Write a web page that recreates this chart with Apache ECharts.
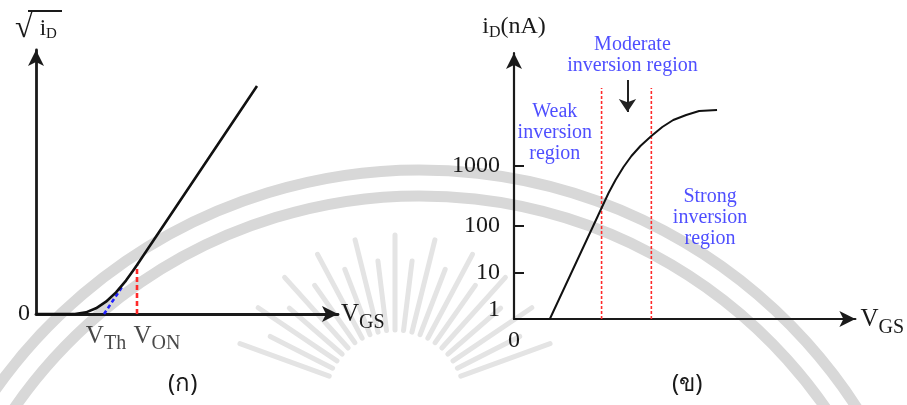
<!DOCTYPE html>
<html>
<head>
<meta charset="utf-8">
<script src="https://cdn.jsdelivr.net/npm/echarts@6/dist/echarts.min.js"></script>
<style>
  html, body { margin: 0; padding: 0; background: #ffffff; }
  #chart { width: 907px; height: 405px; }
</style>
</head>
<body>
<div id="chart"></div>
<script>
// ---- (ก) square root of drain current versus gate voltage ----
const sqrtCurve = [
  [0, 0], [0.39, 0], [0.5, 0.016], [0.6, 0.057], [0.7, 0.123],
  [0.8, 0.216], [0.9, 0.334], [0.97, 0.432], [1.01, 0.49], [2.21, 2.28]
];
const vTh = 0.68;
const vOn = 1.01;
const vOnLevel = 0.49;
const tangentEnd = [0.86, 0.27];
const subNames = ['Th', 'ON'];

// ---- (ข) drain current (schematic log scale) versus gate voltage ----
const idCurve = [
  [0, 0], [0.36, 0], [0.95, 1.26], [1.02, 1.39], [1.10, 1.52], [1.18, 1.63],
  [1.27, 1.73], [1.38, 1.83], [1.49, 1.92], [1.60, 1.99], [1.73, 2.04],
  [1.86, 2.08], [2.04, 2.09]
];
const regionBounds = [0.88, 1.38];
const regionTop = 2.31;
const idTickLabels = ['1', '10', '100', '1000'];
const idTickLevels = [0.09, 0.46, 0.93, 1.53];
const regionNames = ['Weak\ninversion\nregion', 'Moderate\ninversion region', 'Strong\ninversion\nregion'];
const regionAnchors = [[0.41, 1.86], [1.19, 2.64], [1.97, 1.01]];
const moderateArrow = [[1.14, 2.39], [1.14, 2.07]];

const serif = 'Liberation Serif, Times New Roman, serif';
const ink = '#1a1a1a';
const blue = '#2222ff';
const red = '#ff2a2a';

function subRich(size, subSize, drop) {
  return {
    m: { fontSize: size, fontFamily: serif, color: ink },
    r: { fontSize: 32, fontFamily: serif, color: ink, padding: [0, 7, 0, 0] },
    s: { fontSize: subSize, fontFamily: serif, color: ink, padding: [drop, 0, 0, 0] }
  };
}

const arrowLine = (w) => ({
  show: true,
  symbol: ['none', 'arrow'],
  symbolSize: [12, 16],
  lineStyle: { color: ink, width: w }
});

// faint emblem in the background: two concentric arcs and a fan of rays
const emblem = [];
const ec = { x: 420, y: 690 };
[520, 494].forEach(r => emblem.push({
  type: 'arc', silent: true, z: -10,
  shape: { cx: ec.x, cy: ec.y, r: r, startAngle: -152 * Math.PI / 180, endAngle: -22 * Math.PI / 180, clockwise: true },
  style: { stroke: '#d8d8d8', lineWidth: 11, fill: null }
}));
for (let a = 200; a <= 340; a += 7) {
  const t = a * Math.PI / 180;
  const r0 = 70, r1 = (a % 14 === 4) ? 165 : 140;
  emblem.push({
    type: 'line', silent: true, z: -10,
    shape: { x1: 395 + r0 * Math.cos(t), y1: 400 + r0 * Math.sin(t), x2: 395 + r1 * Math.cos(t), y2: 400 + r1 * Math.sin(t) },
    style: { stroke: '#e4e4e4', lineWidth: 5, lineCap: 'round' }
  });
}

const option = {
  animation: false,
  backgroundColor: '#ffffff',
  grid: [
    { left: 36, top: 50, width: 302, height: 264 },
    { left: 514, top: 53, width: 343, height: 266 }
  ],
  xAxis: [
    {
      gridIndex: 0, type: 'value', min: 0, max: 3.02,
      axisLine: arrowLine(2.8), axisTick: { show: false }, splitLine: { show: false },
      axisLabel: { show: false },
      name: '{m|V}{s|GS}', nameLocation: 'end', nameGap: 3,
      nameTextStyle: { rich: subRich(25, 20, 18) }
    },
    {
      gridIndex: 1, type: 'value', min: 0, max: 3.43,
      axisLine: arrowLine(2.2), axisTick: { show: false }, splitLine: { show: false },
      axisLabel: { customValues: [0], formatter: () => '0', fontSize: 24, fontFamily: serif, color: ink, margin: 10 },
      name: '{m|V}{s|GS}', nameLocation: 'end', nameGap: 5,
      nameTextStyle: { rich: subRich(25, 20, 18) }
    }
  ],
  yAxis: [
    {
      gridIndex: 0, type: 'value', min: 0, max: 2.64,
      axisLine: arrowLine(2.8), axisTick: { show: false }, splitLine: { show: false },
      axisLabel: { customValues: [0], formatter: () => '0', fontSize: 24, fontFamily: serif, color: ink, margin: 6 },
      name: '{r|√}{m|i}{s|D}', nameLocation: 'end', nameGap: 5,
      nameTextStyle: { rich: subRich(23, 15, 10) }
    },
    {
      gridIndex: 1, type: 'value', min: 0, max: 2.66,
      axisLine: arrowLine(2.2), splitLine: { show: false },
      axisTick: { show: true, inside: true, length: 10, customValues: idTickLevels.slice(1), lineStyle: { color: ink, width: 2 } },
      axisLabel: {
        customValues: idTickLevels,
        formatter: (v) => idTickLabels[idTickLevels.indexOf(v)],
        fontSize: 24, fontFamily: serif, color: ink, margin: 14
      },
      name: '{m|i}{s|D}{m|(nA)}', nameLocation: 'end', nameGap: 12,
      nameTextStyle: { rich: subRich(24, 16, 12) }
    }
  ],
  series: [
    {
      type: 'line', xAxisIndex: 0, yAxisIndex: 0, data: sqrtCurve, symbol: 'none',
      lineStyle: { color: '#111', width: 2.6 }, z: 5
    },
    {
      type: 'line', xAxisIndex: 0, yAxisIndex: 0, data: [[vTh, 0], tangentEnd], symbol: 'none',
      lineStyle: { color: '#2020ff', width: 2.6, type: [4, 3] }, z: 4
    },
    {
      type: 'line', xAxisIndex: 0, yAxisIndex: 0, data: [[vOn, 0], [vOn, vOnLevel]], symbol: 'none',
      lineStyle: { color: red, width: 2.6, type: [5, 3] }, z: 4
    },
    {
      type: 'scatter', xAxisIndex: 0, yAxisIndex: 0, symbolSize: 0, clip: false,
      data: [
        { value: [vTh, 0], name: subNames[0], label: { offset: [2, 0] } },
        { value: [vOn, 0], name: subNames[1], label: { offset: [20, 0] } }
      ],
      label: {
        show: true, position: 'bottom', distance: 4,
        formatter: (p) => '{m|V}{s|' + p.name + '}',
        rich: subRich(25, 20, 16)
      }
    },
    {
      type: 'line', xAxisIndex: 1, yAxisIndex: 1, data: idCurve, symbol: 'none',
      lineStyle: { color: '#111', width: 2 }, z: 5,
      markLine: {
        silent: true, animation: false, symbol: ['none', 'arrow'], symbolSize: 13,
        label: { show: false },
        lineStyle: { color: '#222', width: 2, type: 'solid' },
        data: [[{ coord: moderateArrow[0] }, { coord: moderateArrow[1] }]]
      }
    },
    {
      type: 'line', xAxisIndex: 1, yAxisIndex: 1, data: [[regionBounds[0], 0], [regionBounds[0], regionTop]], symbol: 'none',
      lineStyle: { color: red, width: 1.6, type: [3, 2] }, z: 4
    },
    {
      type: 'line', xAxisIndex: 1, yAxisIndex: 1, data: [[regionBounds[1], 0], [regionBounds[1], regionTop]], symbol: 'none',
      lineStyle: { color: red, width: 1.6, type: [3, 2] }, z: 4
    },
    {
      type: 'scatter', xAxisIndex: 1, yAxisIndex: 1, symbolSize: 0, clip: false,
      data: regionNames.map((n, i) => ({ value: regionAnchors[i], name: n })),
      label: {
        show: true, position: 'inside', formatter: '{b}',
        fontSize: 20, lineHeight: 21, fontFamily: serif, color: blue, align: 'center'
      }
    }
  ],
  graphic: emblem.concat([
    {
      type: 'line', silent: true, z: 20,
      shape: { x1: 28, y1: 11, x2: 62, y2: 11 },
      style: { stroke: ink, lineWidth: 2 }
    },
    {
      type: 'text', left: 168, top: 372, silent: true,
      style: { text: '(ก)', fontSize: 24, fontFamily: 'Noto Sans, DejaVu Sans, sans-serif', fill: ink }
    },
    {
      type: 'text', left: 672, top: 372, silent: true,
      style: { text: '(ข)', fontSize: 24, fontFamily: 'Noto Sans, DejaVu Sans, sans-serif', fill: ink }
    }
  ])
};

const chart = echarts.init(document.getElementById('chart'), null, { renderer: 'canvas' });
chart.setOption(option);
</script>
</body>
</html>
